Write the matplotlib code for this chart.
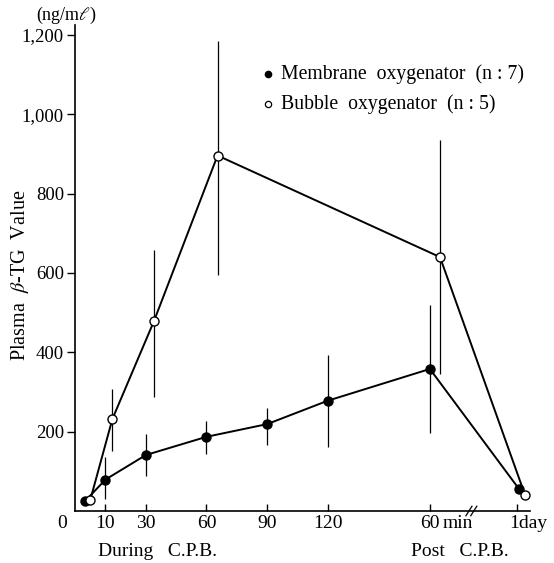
import matplotlib
matplotlib.use("Agg")
import matplotlib.pyplot as plt

# plotting positions (minutes during C.P.B.; post-C.P.B. points placed on the compressed right part)
membrane_x = [0, 10, 30, 60, 90, 120, 170.5, 214.5]
membrane_y = [25, 79, 141, 187, 219, 278, 358, 56]
membrane_lo = [25, 30, 89, 144, 167, 162, 196, 56]
membrane_hi = [25, 137, 193, 228, 260, 392, 519, 56]

bubble_x = [2.5, 13.5, 34, 65.5, 175.5, 217.5]
bubble_y = [27, 232, 478, 896, 640, 41]
bubble_lo = [27, 150, 287, 595, 346, 41]
bubble_hi = [27, 307, 659, 1184, 936, 41]

tick_pos = [10, 30, 60, 90, 120, 170.5, 213.7]
tick_labels = ["10", "30", "60", "90", "120", "60", ""]
y_ticks = [200, 400, 600, 800, 1000, 1200]
y_labels = ["200", "400", "600", "800", "1,000", "1,200"]

plt.rcParams["font.family"] = ["Liberation Serif", "DejaVu Serif"]
plt.rcParams["mathtext.fontset"] = "stix"

W, H = 554, 563
fig = plt.figure(figsize=(W / 100, H / 100), dpi=100)


def fx(x):
    return x / W


def fy(y):
    return 1 - y / H


ax = fig.add_axes([fx(75), fy(511), fx(530) - fx(75), fy(25) - fy(511)])
ax.set_xlim(-5, 220)
ax.set_ylim(0, 1225)
for s in ("top", "right"):
    ax.spines[s].set_visible(False)
for s in ("left", "bottom"):
    ax.spines[s].set_linewidth(1.2)

ax.errorbar(membrane_x, membrane_y,
            yerr=[[v - l for v, l in zip(membrane_y, membrane_lo)],
                  [h - v for v, h in zip(membrane_y, membrane_hi)]],
            fmt="-o", color="black", lw=1.4, ms=6.5, mfc="black", mec="black",
            elinewidth=0.9, capsize=0, zorder=3)
ax.errorbar(bubble_x, bubble_y,
            yerr=[[v - l for v, l in zip(bubble_y, bubble_lo)],
                  [h - v for v, h in zip(bubble_y, bubble_hi)]],
            fmt="-o", color="black", lw=1.4, ms=6.5, mfc="white", mec="black",
            mew=1.0, elinewidth=0.9, capsize=0, zorder=4)

ax.set_yticks(y_ticks)
ax.set_yticklabels(y_labels, fontsize=13.5)
ax.tick_params(axis="y", direction="out", length=6, width=1, pad=2)
ax.set_xticks(tick_pos)
ax.set_xticklabels(tick_labels, fontsize=14)
ax.tick_params(axis="x", direction="in", length=5, width=1, pad=3)

# axis break mark
for dx in (-1.2, 1.2):
    ax.plot([191 + dx - 1.5, 191 + dx + 1.5], [-12, 12], color="black", lw=0.9,
            clip_on=False, zorder=5)

# legend
ax.plot([fx(268)], [fy(74)], "o", color="black", ms=4.5, transform=fig.transFigure,
        clip_on=False)
ax.plot([fx(268)], [fy(104)], "o", mfc="white", mec="black", ms=4.5, mew=0.9,
        transform=fig.transFigure, clip_on=False)
fig.text(fx(281), fy(74), "Membrane  oxygenator  (n : 7)", fontsize=14.2, va="center")
fig.text(fx(281), fy(104), "Bubble  oxygenator  (n : 5)", fontsize=14.2, va="center")

fig.text(fx(20), fy(275), r"Plasma  $\beta$-TG  Value", rotation=90, fontsize=14.5,
         ha="center", va="center")
fig.text(fx(66), fy(15), r"(ng/m$\ell$)", fontsize=13, ha="center", va="center")
fig.text(fx(62), fy(523), "0", fontsize=14, ha="center", va="center")
fig.text(fx(443), fy(523), "min", fontsize=14, ha="left", va="center")
fig.text(fx(509), fy(523), "1day", fontsize=14, ha="left", va="center")
fig.text(fx(158), fy(552), "During   C.P.B.", fontsize=14, ha="center", va="center")
fig.text(fx(460), fy(552), "Post   C.P.B.", fontsize=14, ha="center", va="center")

fig.savefig("out.png", dpi=100)
